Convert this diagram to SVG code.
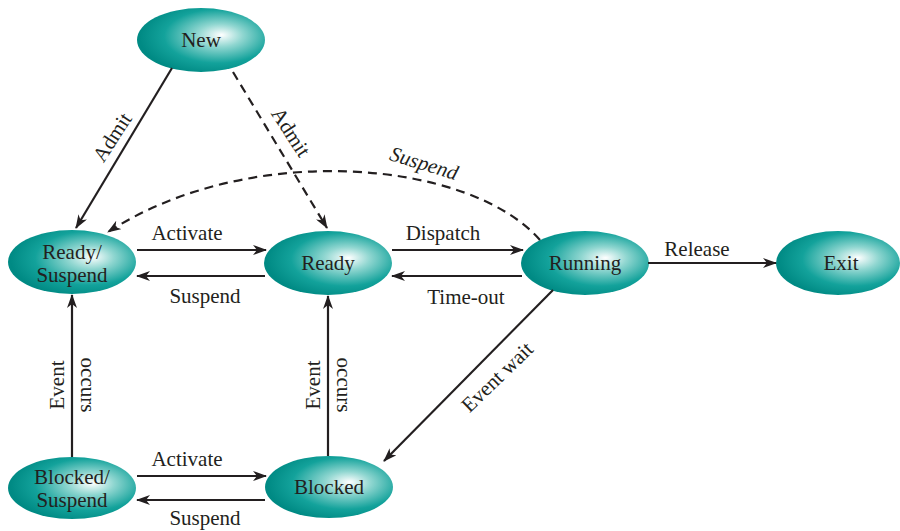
<svg xmlns="http://www.w3.org/2000/svg" width="900" height="531" viewBox="0 0 900 531">
<defs>
<radialGradient id="g" cx="0.62" cy="0.45" r="0.6" fx="0.66" fy="0.42">
<stop offset="0" stop-color="#ffffff"/>
<stop offset="0.3" stop-color="#8fd6d0"/>
<stop offset="0.7" stop-color="#13a29b"/>
<stop offset="1" stop-color="#008a84"/>
</radialGradient>
<marker id="a" viewBox="0 0 14 10" refX="13" refY="5" markerWidth="14" markerHeight="10" markerUnits="userSpaceOnUse" orient="auto">
<path d="M0,0 L14,5 L0,10 L4,5 Z" fill="#231f20"/>
</marker>
</defs>
<style>
.n ellipse{fill:url(#g);}
.t{font-family:"Liberation Serif",serif;font-size:21px;fill:#231f20;text-anchor:middle;}
.c line,.c path{stroke:#231f20;stroke-width:2.2;fill:none;marker-end:url(#a);}
.d{stroke-dasharray:9,6;}
</style>
<g id="nodes">
<g id="new" class="n"><ellipse cx="201" cy="40" rx="64" ry="32"/><text class="t" x="201" y="47">New</text></g>
<g id="readysuspend" class="n"><ellipse cx="72" cy="262" rx="64" ry="32"/><text class="t" x="72" y="259">Ready/</text><text class="t" x="72" y="282">Suspend</text></g>
<g id="ready" class="n"><ellipse cx="328" cy="263" rx="64" ry="32"/><text class="t" x="328" y="270">Ready</text></g>
<g id="running" class="n"><ellipse cx="585" cy="263" rx="64" ry="32"/><text class="t" x="585" y="270">Running</text></g>
<g id="exit" class="n"><ellipse cx="838" cy="263" rx="62" ry="32"/><text class="t" x="841" y="270">Exit</text></g>
<g id="blockedsuspend" class="n"><ellipse cx="72" cy="488" rx="64" ry="31"/><text class="t" x="72" y="484">Blocked/</text><text class="t" x="72" y="507">Suspend</text></g>
<g id="blocked" class="n"><ellipse cx="329" cy="487" rx="64" ry="31"/><text class="t" x="329" y="494">Blocked</text></g>
</g>
<g id="connectors" class="c">
<line x1="172" y1="68" x2="76" y2="228"/>
<line class="d" x1="233" y1="72" x2="327" y2="228"/>
<path class="d" d="M540,240 C470,160 250,140 108,232"/>
<line x1="137" y1="250" x2="266" y2="250"/>
<line x1="265" y1="276" x2="137" y2="276"/>
<line x1="392" y1="250" x2="523" y2="250"/>
<line x1="522" y1="276" x2="392" y2="276"/>
<line x1="648" y1="263" x2="776" y2="263"/>
<line x1="553" y1="290" x2="384" y2="461"/>
<line x1="72" y1="457" x2="72" y2="295"/>
<line x1="328" y1="456" x2="328" y2="296"/>
<line x1="137" y1="476" x2="266" y2="476"/>
<line x1="265" y1="500" x2="137" y2="500"/>
</g>
<g id="labels">
<text class="t" x="187" y="240">Activate</text>
<text class="t" x="205" y="303">Suspend</text>
<text class="t" x="443" y="240">Dispatch</text>
<text class="t" x="466" y="304">Time-out</text>
<text class="t" x="697" y="256">Release</text>
<text class="t" x="187" y="466">Activate</text>
<text class="t" x="205" y="525">Suspend</text>
<text class="t" x="0" y="0" font-style="italic" transform="translate(422,170) rotate(17)">Suspend</text>
<text class="t" x="0" y="0" transform="translate(118,141) rotate(-57)">Admit</text>
<text class="t" x="0" y="0" transform="translate(285,136) rotate(57)">Admit</text>
<text class="t" x="0" y="0" transform="translate(502,382) rotate(-44)">Event wait</text>
<text class="t" x="0" y="0" transform="translate(64,385) rotate(-90)">Event</text>
<text class="t" x="0" y="0" transform="translate(81,385) rotate(90)">occurs</text>
<text class="t" x="0" y="0" transform="translate(320,385) rotate(-90)">Event</text>
<text class="t" x="0" y="0" transform="translate(337,385) rotate(90)">occurs</text>
</g>
</svg>
